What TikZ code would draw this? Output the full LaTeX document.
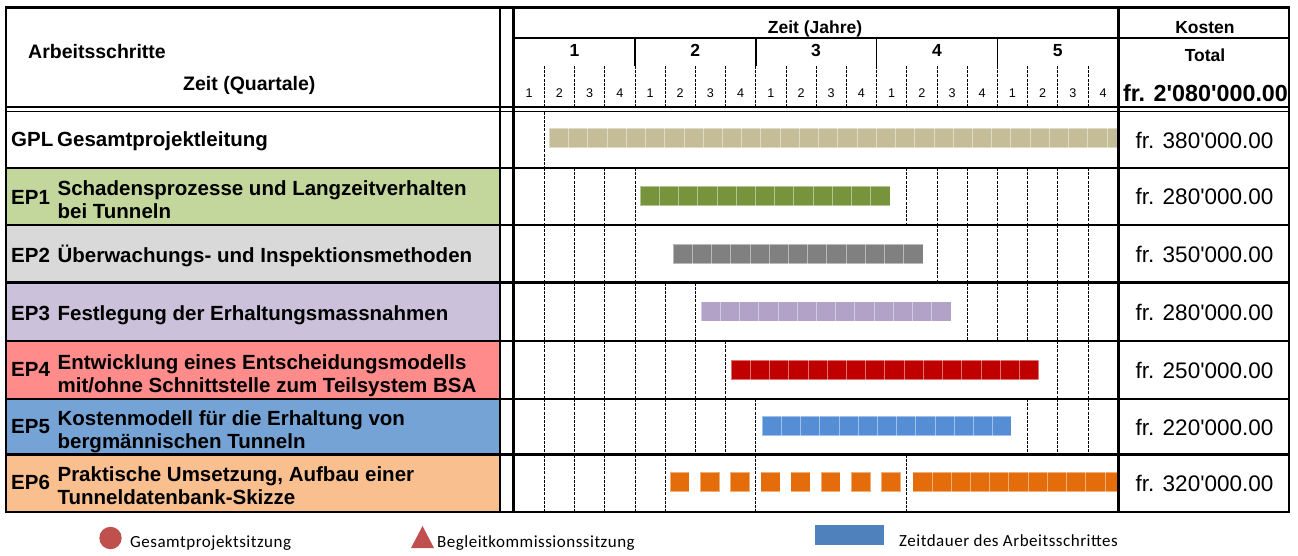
\documentclass[tikz,border=0pt]{standalone}
\usepackage{fontspec}
\setmainfont{Liberation Sans}
\newfontfamily\plainarial{Liberation Sans}
\newfontfamily\legendfont{Carlito}[LetterSpace=3]
\definecolor{ep1bg}{HTML}{C3D69B}
\definecolor{ep2bg}{HTML}{D9D9D9}
\definecolor{ep3bg}{HTML}{CCC1DA}
\definecolor{ep4bg}{HTML}{FF8B8B}
\definecolor{ep5bg}{HTML}{76A3D6}
\definecolor{ep6bg}{HTML}{F9BF8F}
\definecolor{gplbar}{HTML}{C4BD97}
\definecolor{ep1bar}{HTML}{77933C}
\definecolor{ep2bar}{HTML}{808080}
\definecolor{ep3bar}{HTML}{B3A2C7}
\definecolor{ep4bar}{HTML}{C00000}
\definecolor{ep5bar}{HTML}{558ED5}
\definecolor{ep6bar}{HTML}{E46C0A}
\definecolor{legred}{HTML}{C0504D}
\definecolor{legblue}{HTML}{4F81BD}
\newcommand\ganttbar[4]{%
  \fill[#1] (#2,#4) rectangle (#3,#4+19.5);
  \draw[segline] (#2,#4) rectangle (#3,#4+19.5);
  \pgfmathsetmacro\nseg{int(floor((#3-#2)/19.23))}
  \foreach \s in {1,...,\nseg} \draw[segline] ({#2+19.23*\s},#4) -- ++(0,19.5);
}
\begin{document}
\begin{tikzpicture}[x=1pt,y=-1pt,
  border/.style={line width=2.2pt},
  dbl/.style={line width=1.6pt},
  yearline/.style={line width=1.6pt},
  qline/.style={line width=0.8pt, dash pattern=on 3pt off 1.2pt},
  segline/.style={white, opacity=0.45, line width=0.8pt},
  lbl/.style={font=\fontsize{20.5}{23}\bfseries\selectfont, inner sep=0pt, anchor=base west},
  hdr/.style={font=\fontsize{19.5}{22}\bfseries\selectfont, inner sep=0pt, anchor=base west},
  hdrc/.style={font=\fontsize{17.5}{20}\bfseries\selectfont, inner sep=0pt, anchor=base},
  qnum/.style={font=\fontsize{12.6}{14}\selectfont, inner sep=0pt, anchor=base},
  cost/.style={font=\plainarial\fontsize{22.5}{25}\selectfont, inner sep=0pt, anchor=base},
  leg/.style={font=\fontsize{17}{19}\legendfont, inner sep=0pt, anchor=base west}]
\useasboundingbox (0,0) rectangle (1298,555);

% left column backgrounds
\fill[ep1bg] (6,168) rectangle (500,225);
\fill[ep2bg] (6,225) rectangle (500,282.5);
\fill[ep3bg] (6,282.5) rectangle (500,341);
\fill[ep4bg] (6,341) rectangle (500,399);
\fill[ep5bg] (6,399) rectangle (500,454.5);
\fill[ep6bg] (6,454.5) rectangle (500,512);

% bars
\ganttbar{gplbar}{549.3}{1118.5}{128.3}
\ganttbar{ep1bar}{640}{890}{186}
\ganttbar{ep2bar}{673}{923}{244}
\ganttbar{ep3bar}{701}{951}{301.7}
\ganttbar{ep4bar}{731}{1039}{360}
\ganttbar{ep5bar}{762}{1011}{416}
\foreach \k in {0,...,7} {
  \fill[ep6bar] ({670+30.2*\k},472.3) rectangle ++(19.3,19.5);
  \draw[segline] ({670+30.2*\k},472.3) rectangle ++(19.3,19.5);
}
\ganttbar{ep6bar}{912.7}{1118.5}{472.3}

% quarter lines in header
\foreach \k in {1,...,19} \draw[qline] ({514.1+30.2*\k},66) -- ({514.1+30.2*\k},107);
% year lines
\foreach \k in {4,8,12,16} \draw[yearline] ({514.1+30.2*\k},38) -- ({514.1+30.2*\k},66);

% quarter lines in rows
\foreach \ya/\yb/\ks in {
  111.5/168/{1},
  168/225/{1,2,3,4,13,14,15,16,17,18,19},
  225/282.5/{1,2,3,4,14,15,16,17,18,19},
  282.5/341/{1,2,3,4,5,6,15,16,17,18,19},
  341/399/{1,2,3,4,5,6,7,18,19},
  399/454.5/{1,2,3,4,5,6,7,8,17,18,19},
  454.5/512/{1,2,3,4,5,8,13}} {
  \foreach \k in \ks \draw[qline] ({514.1+30.2*\k},\ya) -- ({514.1+30.2*\k},\yb);
}

% frame and grid
\draw[border] (6,7.5) rectangle (1289,512);
\draw[border] (500,7.5) -- (500,512);
\draw[border] (513.5,7.5) -- (513.5,512);
\draw[border] (1118.5,7.5) -- (1118.5,512);
\draw[border] (513.5,38) -- (1289,38);
\draw[dbl] (6,107) -- (1289,107);
\draw[dbl] (6,111.5) -- (1289,111.5);
\foreach \y in {168,225,282.5,341,399,454.5} \draw[border] (6,\y) -- (1289,\y);

% header texts
\node[hdr] (arb) at (28,58.3) {Arbeitsschritte};
\node[hdr] (zq) at (183,90) {Zeit (Quartale)};
\node[hdrc] (zj) at (815,33.5) {Zeit (Jahre)};
\node[hdrc] (kost) at (1205,33.5) {Kosten};
\node[hdrc] (tot) at (1205,61.5) {Total};
\foreach \j in {1,...,5} \node[hdrc] (y\j) at ({514.1+120.8*(\j-1)+60.4},56.5) {\j};
\foreach \k in {0,...,19} {
  \pgfmathtruncatemacro\q{mod(\k,4)+1}
  \node[qnum] (q\k) at ({514.1+30.2*\k+15.1},97.3) {\q};
}
\node[font=\plainarial\fontsize{23.3}{26}\bfseries\selectfont, inner sep=0pt, anchor=base] (total) at (1205.5,101.7) {fr. 2'080'000.00};

% row labels
\node[lbl] (gpl) at (11,146.8) {GPL};
\node[lbl] (gplt) at (57,146.8) {Gesamtprojektleitung};
\node[lbl] (ep1) at (11,204) {EP1};
\node[lbl] (ep1a) at (57.4,195) {Schadensprozesse und Langzeitverhalten};
\node[lbl] (ep1b) at (57.4,218) {bei Tunneln};
\node[lbl] (ep2) at (11,262.5) {EP2};
\node[lbl] (ep2t) at (57.4,262.5) {Überwachungs- und Inspektionsmethoden};
\node[lbl] (ep3) at (11,320.5) {EP3};
\node[lbl] (ep3t) at (57.4,320.5) {Festlegung der Erhaltungsmassnahmen};
\node[lbl] (ep4) at (11,376.7) {EP4};
\node[lbl] (ep4a) at (57.4,369.5) {Entwicklung eines Entscheidungsmodells};
\node[lbl] (ep4b) at (57.4,392.7) {mit/ohne Schnittstelle zum Teilsystem BSA};
\node[lbl] (ep5) at (11,433.3) {EP5};
\node[lbl] (ep5a) at (57.4,425) {Kostenmodell für die Erhaltung von};
\node[lbl] (ep5b) at (57.4,448) {bergmännischen Tunneln};
\node[lbl] (ep6) at (11,489) {EP6};
\node[lbl] (ep6a) at (57.4,481) {Praktische Umsetzung, Aufbau einer};
\node[lbl] (ep6b) at (57.4,504) {Tunneldatenbank-Skizze};

% costs
\node[cost] (c0) at (1204.5,148) {fr. 380'000.00};
\node[cost] (c1) at (1204.5,204.8) {fr. 280'000.00};
\node[cost] (c2) at (1204.5,262.8) {fr. 350'000.00};
\node[cost] (c3) at (1204.5,320.2) {fr. 280'000.00};
\node[cost] (c4) at (1204.5,378.3) {fr. 250'000.00};
\node[cost] (c5) at (1204.5,435) {fr. 220'000.00};
\node[cost] (c6) at (1204.5,491.5) {fr. 320'000.00};

% legend
\fill[legred] (110.5,538) circle (11.2);
\fill[legred] (411,548) -- (422.5,526) -- (434,548) -- cycle;
\fill[legblue] (815,525) rectangle (884,544.5);
\node[leg] (l1) at (130,547) {Gesamtprojektsitzung};
\node[leg] (l2) at (437,547) {Begleitkommissionssitzung};
\node[leg] (l3) at (899,546.7) {Zeitdauer des Arbeitsschrittes};
\end{tikzpicture}
\end{document}
